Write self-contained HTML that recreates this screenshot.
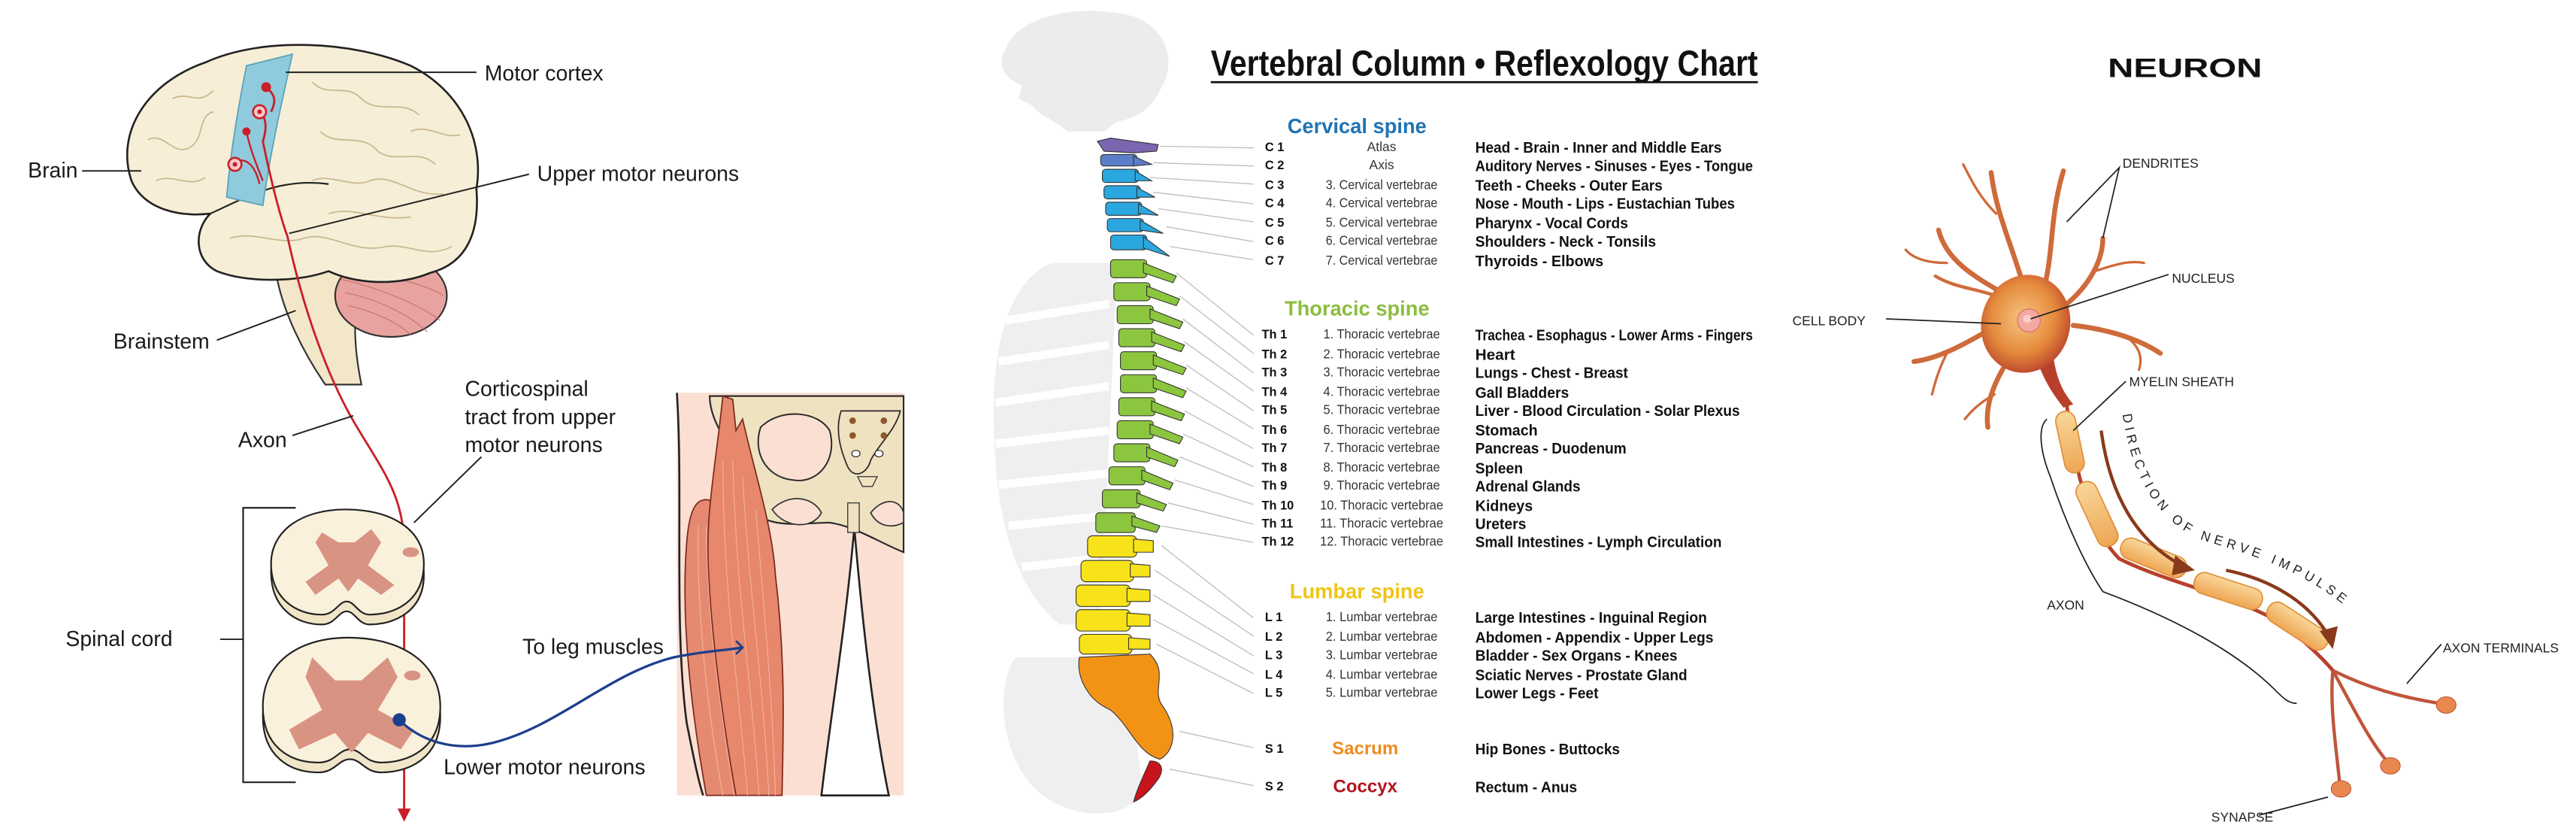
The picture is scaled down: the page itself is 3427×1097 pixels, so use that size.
<!DOCTYPE html>
<html><head><meta charset="utf-8"><style>
html,body{margin:0;padding:0;background:#fff;}
svg{display:block;}
text{font-family:"Liberation Sans",sans-serif;}
</style></head><body>
<svg width="3427" height="1097" viewBox="0 0 1568 502" preserveAspectRatio="none" xmlns="http://www.w3.org/2000/svg">
<rect width="1568" height="502" fill="#fff"/>

<!-- ================= LEFT PANEL ================= -->
<rect x="412" y="239" width="138" height="245" fill="#fbdfd3"/>
<path d="M412,239 C416,300 410,380 418,440 C422,460 425,475 428,484" fill="none" stroke="#222" stroke-width="1.2"/>
<path d="M520,321 C515,380 505,440 500,484 L541,484 C532,440 525,380 520,321 Z" fill="#fff" stroke="#222" stroke-width="1.2"/>
<path d="M432,241 L550,241 L550,336 C535,330 520,320 505,318 C490,318 470,322 460,312 C450,300 452,285 445,275 C438,262 432,252 432,241 Z" fill="#efe2c1" stroke="#2a2a2a" stroke-width="1"/>
<path d="M463,260 C475,248 498,250 505,262 C510,280 498,295 482,292 C466,290 458,275 463,260 Z" fill="#fbdfd3" stroke="#2a2a2a" stroke-width="0.9"/>
<path d="M512,250 L548,250 C545,262 535,270 530,280 C528,288 520,292 516,284 C512,275 508,262 512,250 Z" fill="#efe2c1" stroke="#2a2a2a" stroke-width="0.8"/>
<circle cx="519" cy="256" r="2" fill="#8a5a2a"/><circle cx="538" cy="256" r="2" fill="#8a5a2a"/>
<circle cx="519" cy="265" r="2" fill="#8a5a2a"/><circle cx="538" cy="265" r="2" fill="#8a5a2a"/>
<ellipse cx="521" cy="276" rx="2.5" ry="2" fill="#fff" stroke="#333" stroke-width="0.6"/>
<ellipse cx="535" cy="276" rx="2.5" ry="2" fill="#fff" stroke="#333" stroke-width="0.6"/>
<path d="M522,290 L534,290 L531,296 L525,296 Z" fill="#efe2c1" stroke="#333" stroke-width="0.6"/>
<path d="M470,310 C480,300 495,302 500,312 C495,322 478,322 470,310 Z" fill="#fbdfd3" stroke="#333" stroke-width="0.8"/>
<path d="M530,312 C538,302 548,304 550,312 L550,318 C542,322 534,320 530,312 Z" fill="#fbdfd3" stroke="#333" stroke-width="0.8"/>
<rect x="516" y="306" width="7" height="18" fill="#efe2c1" stroke="#333" stroke-width="0.6"/>
<path d="M426,305 C436,300 440,315 438,330 C436,380 450,440 455,484 L430,484 C422,440 414,380 418,330 C419,318 421,308 426,305 Z" fill="#e58a70" stroke="#7a2a1f" stroke-width="0.8"/>
<path d="M440,241 L446,243 L448,262 L452,255 C460,290 470,320 472,350 C478,400 477,440 476,484 L448,484 C440,440 432,380 431,340 C430,310 436,280 440,241 Z" fill="#e7876c" stroke="#7a2a1f" stroke-width="0.8"/>
<g stroke="#f5b3a0" stroke-width="0.5" fill="none">
<path d="M440,280 C440,360 450,420 455,484"/><path d="M446,280 C448,360 458,420 462,484"/><path d="M452,290 C456,360 465,420 468,484"/><path d="M460,310 C465,370 470,420 472,484"/><path d="M425,320 C424,380 432,440 440,484"/><path d="M430,320 C430,380 440,440 447,484"/>
</g>

<path d="M168,166 C172,190 185,215 198,234 L220,234 C215,210 214,185 222,160 Z" fill="#f2e7c9" stroke="#333" stroke-width="1"/>
<ellipse cx="238" cy="180" rx="34" ry="25" fill="#e8a3a0" stroke="#333" stroke-width="1"/>
<g stroke="#c46f6c" stroke-width="0.5" fill="none">
<path d="M208,170 C230,175 255,185 268,195"/><path d="M210,178 C230,182 250,192 260,202"/><path d="M212,186 C230,190 245,198 250,204"/><path d="M210,164 C235,168 258,172 270,180"/>
</g>
<path d="M80,110 C70,80 90,50 125,38 C160,22 215,25 250,40 C280,55 295,85 290,115 C292,140 285,160 262,166 C240,175 215,172 200,165 C180,172 150,172 132,165 C118,158 118,140 128,130 C110,132 88,128 80,110 Z" fill="#f6eed6" stroke="#222" stroke-width="1.2"/>
<g stroke="#c9b88f" stroke-width="0.8" fill="none">
<path d="M90,85 C100,80 105,95 115,90 C125,85 120,70 130,68"/><path d="M95,110 C105,105 115,115 125,108"/><path d="M190,50 C200,60 210,50 220,60 C230,70 245,60 255,70"/><path d="M195,80 C205,90 220,80 230,92 C240,100 255,90 265,100"/><path d="M190,110 C200,105 215,115 225,110 C240,105 250,120 270,118"/><path d="M140,145 C155,140 170,150 185,145 C200,140 215,155 235,150 C250,148 260,158 275,150"/><path d="M105,60 C115,55 120,65 130,55"/><path d="M200,130 C215,125 230,135 250,132"/><path d="M250,80 C260,75 270,85 280,82"/>
</g>
<path d="M128,130 C150,120 170,108 200,112" fill="none" stroke="#222" stroke-width="1"/>
<path d="M150,40 L178,33 C172,60 165,90 160,125 L138,120 C140,95 145,65 150,40 Z" fill="#8fcbdc" stroke="#5aa2bb" stroke-width="0.8"/>
<path d="M162,53 C168,58 168,62 165,68 M158,68 C163,72 162,80 160,86 C165,110 170,130 175,144 C185,190 200,230 215,256 C232,285 245,300 246,330 L246,495" fill="none" stroke="#c8202a" stroke-width="1.3"/>
<path d="M150,80 C152,90 156,100 160,110 M143,98 C150,96 155,100 158,112" fill="none" stroke="#c8202a" stroke-width="1.1"/>
<circle cx="162" cy="53" r="3" fill="#c8202a"/>
<circle cx="158" cy="68" r="4" fill="#f7c6c8" stroke="#c8202a" stroke-width="1.2"/><circle cx="158" cy="68" r="1.4" fill="#c8202a"/>
<circle cx="150" cy="80" r="2.5" fill="#c8202a"/>
<circle cx="143" cy="100" r="4" fill="#f7c6c8" stroke="#c8202a" stroke-width="1.2"/><circle cx="143" cy="100" r="1.4" fill="#c8202a"/>
<path d="M242,492 L246,500 L250,492 Z" fill="#c8202a"/>
<g stroke="#222" stroke-width="1">
<path d="M165,348 C165,325 185,314 210,314 C238,314 258,325 258,350 C258,372 240,380 225,380 C218,380 216,372 211,372 C206,372 204,380 196,380 C180,380 165,370 165,348 Z" fill="#f1e5c8"/>
<path d="M165,343 C165,322 185,310 210,310 C238,310 258,322 258,343 C258,366 240,374 225,374 C218,374 216,366 211,366 C206,366 204,374 196,374 C180,374 165,364 165,343 Z" fill="#faf1dc"/>
<path d="M160,436 C160,408 182,392 212,392 C244,392 268,408 268,436 C268,462 248,470 232,470 C222,470 220,462 213,462 C206,462 204,470 194,470 C176,470 160,460 160,436 Z" fill="#f1e5c8"/>
<path d="M160,430 C160,403 182,388 212,388 C244,388 268,403 268,430 C268,456 248,464 232,464 C222,464 220,456 213,456 C206,456 204,464 194,464 C176,464 160,454 160,430 Z" fill="#faf1dc"/>
</g>
<path d="M196,324 L206,330 L216,330 L226,322 L232,330 L224,344 L240,356 L232,362 L218,352 L212,360 L206,352 L192,362 L186,354 L200,344 L192,330 Z" fill="#d99382"/>
<path d="M190,400 L204,414 L220,414 L236,400 L242,412 L230,432 L252,444 L244,456 L224,446 L214,458 L204,446 L182,456 L176,444 L196,432 L186,412 Z" fill="#d99382"/>
<ellipse cx="250" cy="336" rx="5" ry="3" fill="#d99382"/><ellipse cx="251" cy="411" rx="5" ry="3" fill="#d99382"/>
<circle cx="243" cy="438" r="4" fill="#1c3f8c"/>
<path d="M243,438 C255,450 275,458 300,452 C340,442 370,410 410,400 C430,396 440,396 452,394" fill="none" stroke="#1c3f8c" stroke-width="1.5"/>
<path d="M448,390 L452,394 L448,398" fill="none" stroke="#1c3f8c" stroke-width="1.3"/>
<path d="M180,309 L148,309 L148,476 L180,476" fill="none" stroke="#222" stroke-width="1"/>
<g stroke="#222" stroke-width="0.9" fill="none">
<line x1="174" y1="44" x2="290" y2="44"/><line x1="50" y1="104" x2="86" y2="104"/><line x1="176" y1="142" x2="322" y2="106"/><line x1="132" y1="207" x2="180" y2="189"/><line x1="178" y1="265" x2="215" y2="253"/><line x1="293" y1="278" x2="252" y2="318"/><line x1="134" y1="389" x2="148" y2="389"/>
</g>
<g font-size="13" fill="#1a1a1a">
<text x="295" y="49">Motor cortex</text>
<text x="17" y="108">Brain</text>
<text x="327" y="110">Upper motor neurons</text>
<text x="69" y="212">Brainstem</text>
<text x="145" y="272">Axon</text>
<text x="283" y="241">Corticospinal</text>
<text x="283" y="258">tract from upper</text>
<text x="283" y="275">motor neurons</text>
<text x="40" y="393">Spinal cord</text>
<text x="318" y="398">To leg muscles</text>
<text x="270" y="471">Lower motor neurons</text>
</g>

<!-- ================= MIDDLE PANEL ================= -->
<g fill="#ececec">
<path d="M612,30 C620,8 660,2 690,10 C712,18 716,40 706,55 C700,68 690,72 680,74 L672,80 L650,80 C640,72 632,70 628,64 L620,60 L622,52 C612,48 606,40 612,30 Z"/>
<path d="M640,160 C615,170 603,210 605,260 C606,320 620,360 645,380 L670,380 L680,160 Z" fill="#efefef"/>
<path d="M618,400 C605,420 610,460 630,480 C650,500 690,500 695,480 L690,430 L660,400 Z" fill="#efefef"/>
</g>
<g stroke="#fff" stroke-width="5" fill="none">
<path d="M612,195 L675,185"/><path d="M608,220 L675,210"/><path d="M606,245 L675,235"/><path d="M606,270 L675,262"/><path d="M608,295 L675,288"/><path d="M614,320 L672,314"/><path d="M622,345 L668,340"/>
</g>
<g stroke="#bdbdbd" stroke-width="0.6" fill="none">
<line x1="706" y1="89" x2="763" y2="90"/><line x1="702" y1="99" x2="763" y2="101"/><line x1="700" y1="108" x2="763" y2="112"/><line x1="702" y1="117" x2="763" y2="124"/><line x1="705" y1="127" x2="763" y2="135"/><line x1="710" y1="138" x2="763" y2="147"/><line x1="712" y1="150" x2="763" y2="158"/>
<line x1="716" y1="166" x2="763" y2="204"/><line x1="718" y1="180" x2="763" y2="215"/><line x1="720" y1="194" x2="763" y2="227"/><line x1="721" y1="208" x2="763" y2="238"/><line x1="722" y1="222" x2="763" y2="250"/><line x1="722" y1="236" x2="763" y2="261"/><line x1="721" y1="250" x2="763" y2="273"/><line x1="720" y1="264" x2="763" y2="284"/><line x1="718" y1="278" x2="763" y2="296"/><line x1="715" y1="292" x2="763" y2="307"/><line x1="711" y1="306" x2="763" y2="319"/><line x1="707" y1="320" x2="763" y2="330"/>
<line x1="707" y1="332" x2="763" y2="376"/><line x1="703" y1="347" x2="763" y2="387"/><line x1="702" y1="362" x2="763" y2="399"/><line x1="702" y1="377" x2="763" y2="410"/><line x1="704" y1="392" x2="763" y2="422"/>
<line x1="718" y1="445" x2="763" y2="455"/><line x1="712" y1="468" x2="763" y2="478"/>
</g>
<g stroke="#333" stroke-width="0.5">
<path d="M668,86 L676,84 L690,86 L705,88 L704,92 L690,93 L672,92 Z" fill="#7b66b2"/>
<g fill="#2aa7df">
<rect x="670" y="94" width="22" height="7" rx="2" fill="#5b7ec8"/><path d="M690,95 L701,100 L690,101 Z" fill="#5b7ec8"/>
<rect x="671" y="103" width="22" height="8" rx="2"/><path d="M691,104 L701,110 L691,110 Z"/>
<rect x="672" y="113" width="22" height="8" rx="2"/><path d="M692,114 L703,120 L692,120 Z"/>
<rect x="673" y="123" width="22" height="8" rx="2"/><path d="M693,124 L705,131 L693,130 Z"/>
<rect x="674" y="133" width="22" height="8" rx="2"/><path d="M694,134 L708,142 L694,140 Z"/>
<rect x="676" y="143" width="22" height="9" rx="2"/><path d="M696,144 L712,156 L696,151 Z"/>
</g>
<g fill="#8cc63e">
<rect x="676" y="158" width="22" height="11" rx="2"/><path d="M696,160 L716,168 L714,172 L696,166 Z"/>
<rect x="678" y="172" width="22" height="11" rx="2"/><path d="M698,174 L718,182 L716,186 L698,180 Z"/>
<rect x="680" y="186" width="22" height="11" rx="2"/><path d="M700,188 L720,196 L718,200 L700,194 Z"/>
<rect x="681" y="200" width="22" height="11" rx="2"/><path d="M701,202 L721,210 L719,214 L701,208 Z"/>
<rect x="682" y="214" width="22" height="11" rx="2"/><path d="M702,216 L722,224 L720,228 L702,222 Z"/>
<rect x="682" y="228" width="22" height="11" rx="2"/><path d="M702,230 L722,238 L720,242 L702,236 Z"/>
<rect x="681" y="242" width="22" height="11" rx="2"/><path d="M701,244 L721,252 L719,256 L701,250 Z"/>
<rect x="680" y="256" width="22" height="11" rx="2"/><path d="M700,258 L720,266 L718,270 L700,264 Z"/>
<rect x="678" y="270" width="22" height="11" rx="2"/><path d="M698,272 L717,280 L715,284 L698,278 Z"/>
<rect x="675" y="284" width="22" height="11" rx="2"/><path d="M695,286 L714,294 L712,298 L695,292 Z"/>
<rect x="671" y="298" width="23" height="11" rx="2"/><path d="M692,300 L710,307 L708,311 L692,306 Z"/>
<rect x="667" y="312" width="24" height="12" rx="2"/><path d="M689,314 L706,320 L704,324 L689,320 Z"/>
</g>
<g fill="#f8e21a">
<rect x="662" y="326" width="30" height="13" rx="3"/><path d="M690,328 L702,329 L702,336 L690,336 Z"/>
<rect x="658" y="341" width="32" height="13" rx="3"/><path d="M688,343 L700,344 L700,351 L688,351 Z"/>
<rect x="655" y="356" width="33" height="13" rx="3"/><path d="M686,358 L700,359 L700,366 L686,366 Z"/>
<rect x="655" y="371" width="33" height="13" rx="3"/><path d="M686,373 L700,374 L700,381 L686,381 Z"/>
<rect x="657" y="386" width="32" height="12" rx="3"/><path d="M687,388 L700,389 L700,395 L687,395 Z"/>
</g>
<path d="M657,400 L700,398 C712,410 700,420 708,430 C718,445 714,458 706,462 C692,458 688,442 676,432 C662,426 655,412 657,400 Z" fill="#f39316"/>
<path d="M700,463 C707,463 709,468 705,474 C700,481 695,486 690,488 C692,480 697,470 700,463 Z" fill="#c8141c"/>
</g>
<text x="737" y="46" font-size="22" font-weight="bold" textLength="333" lengthAdjust="spacingAndGlyphs" fill="#111">Vertebral Column • Reflexology Chart</text>
<line x1="737" y1="50" x2="1070" y2="50" stroke="#111" stroke-width="1.3"/>
<g font-weight="bold" text-anchor="middle" font-size="12.5">
<text x="826" y="81" fill="#1f74b4">Cervical spine</text>
<text x="826" y="192" fill="#8cbd3e">Thoracic spine</text>
<text x="826" y="364" fill="#f0c419">Lumbar spine</text>
<text x="831" y="459" fill="#ef8b1e" font-size="11">Sacrum</text>
<text x="831" y="482" fill="#b5141e" font-size="11">Coccyx</text>
</g>
<g font-size="7.5" font-weight="bold" fill="#111">
<text x="770" y="92">C 1</text><text x="770" y="103">C 2</text><text x="770" y="115">C 3</text><text x="770" y="126">C 4</text><text x="770" y="138">C 5</text><text x="770" y="149">C 6</text><text x="770" y="161">C 7</text>
<text x="768" y="206">Th 1</text><text x="768" y="218">Th 2</text><text x="768" y="229">Th 3</text><text x="768" y="241">Th 4</text><text x="768" y="252">Th 5</text><text x="768" y="264">Th 6</text><text x="768" y="275">Th 7</text><text x="768" y="287">Th 8</text><text x="768" y="298">Th 9</text><text x="768" y="310">Th 10</text><text x="768" y="321">Th 11</text><text x="768" y="332">Th 12</text>
<text x="770" y="378">L 1</text><text x="770" y="390">L 2</text><text x="770" y="401">L 3</text><text x="770" y="413">L 4</text><text x="770" y="424">L 5</text>
<text x="770" y="458">S 1</text><text x="770" y="481">S 2</text>
</g>
<g font-size="8" fill="#333" text-anchor="middle">
<text x="841" y="92">Atlas</text><text x="841" y="103">Axis</text>
<text x="841" y="115" textLength="68" lengthAdjust="spacingAndGlyphs">3. Cervical vertebrae</text>
<text x="841" y="126" textLength="68" lengthAdjust="spacingAndGlyphs">4. Cervical vertebrae</text>
<text x="841" y="138" textLength="68" lengthAdjust="spacingAndGlyphs">5. Cervical vertebrae</text>
<text x="841" y="149" textLength="68" lengthAdjust="spacingAndGlyphs">6. Cervical vertebrae</text>
<text x="841" y="161" textLength="68" lengthAdjust="spacingAndGlyphs">7. Cervical vertebrae</text>
<text x="841" y="206" textLength="71" lengthAdjust="spacingAndGlyphs">1. Thoracic vertebrae</text>
<text x="841" y="218" textLength="71" lengthAdjust="spacingAndGlyphs">2. Thoracic vertebrae</text>
<text x="841" y="229" textLength="71" lengthAdjust="spacingAndGlyphs">3. Thoracic vertebrae</text>
<text x="841" y="241" textLength="71" lengthAdjust="spacingAndGlyphs">4. Thoracic vertebrae</text>
<text x="841" y="252" textLength="71" lengthAdjust="spacingAndGlyphs">5. Thoracic vertebrae</text>
<text x="841" y="264" textLength="71" lengthAdjust="spacingAndGlyphs">6. Thoracic vertebrae</text>
<text x="841" y="275" textLength="71" lengthAdjust="spacingAndGlyphs">7. Thoracic vertebrae</text>
<text x="841" y="287" textLength="71" lengthAdjust="spacingAndGlyphs">8. Thoracic vertebrae</text>
<text x="841" y="298" textLength="71" lengthAdjust="spacingAndGlyphs">9. Thoracic vertebrae</text>
<text x="841" y="310" textLength="75" lengthAdjust="spacingAndGlyphs">10. Thoracic vertebrae</text>
<text x="841" y="321" textLength="75" lengthAdjust="spacingAndGlyphs">11. Thoracic vertebrae</text>
<text x="841" y="332" textLength="75" lengthAdjust="spacingAndGlyphs">12. Thoracic vertebrae</text>
<text x="841" y="378" textLength="68" lengthAdjust="spacingAndGlyphs">1. Lumbar vertebrae</text>
<text x="841" y="390" textLength="68" lengthAdjust="spacingAndGlyphs">2. Lumbar vertebrae</text>
<text x="841" y="401" textLength="68" lengthAdjust="spacingAndGlyphs">3. Lumbar vertebrae</text>
<text x="841" y="413" textLength="68" lengthAdjust="spacingAndGlyphs">4. Lumbar vertebrae</text>
<text x="841" y="424" textLength="68" lengthAdjust="spacingAndGlyphs">5. Lumbar vertebrae</text>
</g>
<g font-size="9.5" font-weight="bold" fill="#111">
<text x="898" y="93" textLength="150" lengthAdjust="spacingAndGlyphs">Head - Brain - Inner and Middle Ears</text>
<text x="898" y="104" textLength="169" lengthAdjust="spacingAndGlyphs">Auditory Nerves - Sinuses - Eyes - Tongue</text>
<text x="898" y="116" textLength="114" lengthAdjust="spacingAndGlyphs">Teeth - Cheeks - Outer Ears</text>
<text x="898" y="127" textLength="158" lengthAdjust="spacingAndGlyphs">Nose - Mouth - Lips - Eustachian Tubes</text>
<text x="898" y="139" textLength="93" lengthAdjust="spacingAndGlyphs">Pharynx - Vocal Cords</text>
<text x="898" y="150" textLength="110" lengthAdjust="spacingAndGlyphs">Shoulders - Neck - Tonsils</text>
<text x="898" y="162" textLength="78" lengthAdjust="spacingAndGlyphs">Thyroids - Elbows</text>
<text x="898" y="207" textLength="169" lengthAdjust="spacingAndGlyphs">Trachea - Esophagus - Lower Arms - Fingers</text>
<text x="898" y="219">Heart</text>
<text x="898" y="230" textLength="93" lengthAdjust="spacingAndGlyphs">Lungs - Chest - Breast</text>
<text x="898" y="242" textLength="57" lengthAdjust="spacingAndGlyphs">Gall Bladders</text>
<text x="898" y="253" textLength="161" lengthAdjust="spacingAndGlyphs">Liver - Blood Circulation - Solar Plexus</text>
<text x="898" y="265" textLength="38" lengthAdjust="spacingAndGlyphs">Stomach</text>
<text x="898" y="276" textLength="92" lengthAdjust="spacingAndGlyphs">Pancreas - Duodenum</text>
<text x="898" y="288" textLength="29" lengthAdjust="spacingAndGlyphs">Spleen</text>
<text x="898" y="299" textLength="64" lengthAdjust="spacingAndGlyphs">Adrenal Glands</text>
<text x="898" y="311" textLength="35" lengthAdjust="spacingAndGlyphs">Kidneys</text>
<text x="898" y="322" textLength="31" lengthAdjust="spacingAndGlyphs">Ureters</text>
<text x="898" y="333" textLength="150" lengthAdjust="spacingAndGlyphs">Small Intestines - Lymph Circulation</text>
<text x="898" y="379" textLength="141" lengthAdjust="spacingAndGlyphs">Large Intestines - Inguinal Region</text>
<text x="898" y="391" textLength="145" lengthAdjust="spacingAndGlyphs">Abdomen - Appendix - Upper Legs</text>
<text x="898" y="402" textLength="123" lengthAdjust="spacingAndGlyphs">Bladder - Sex Organs - Knees</text>
<text x="898" y="414" textLength="129" lengthAdjust="spacingAndGlyphs">Sciatic Nerves - Prostate Gland</text>
<text x="898" y="425" textLength="75" lengthAdjust="spacingAndGlyphs">Lower Legs - Feet</text>
<text x="898" y="459" textLength="88" lengthAdjust="spacingAndGlyphs">Hip Bones - Buttocks</text>
<text x="898" y="482" textLength="62" lengthAdjust="spacingAndGlyphs">Rectum - Anus</text>
</g>

<!-- ================= RIGHT PANEL ================= -->
<text x="1283" y="47" font-size="16" font-weight="bold" fill="#111" textLength="94" lengthAdjust="spacingAndGlyphs">NEURON</text>
<defs>
<radialGradient id="cb" cx="0.45" cy="0.45" r="0.6"><stop offset="0" stop-color="#f6c680"/><stop offset="0.6" stop-color="#e58a3c"/><stop offset="1" stop-color="#b8402a"/></radialGradient>
<linearGradient id="my" x1="0" y1="0" x2="0" y2="1"><stop offset="0" stop-color="#f8d79a"/><stop offset="1" stop-color="#eea653"/></linearGradient>
</defs>
<g stroke="#cf6a3a" fill="none" stroke-linecap="round">
<path d="M1232,175 C1225,150 1215,130 1212,105" stroke-width="3"/><path d="M1215,130 C1205,120 1200,110 1195,100" stroke-width="1.5"/>
<path d="M1245,172 C1250,150 1248,130 1256,104" stroke-width="3"/>
<path d="M1222,180 C1205,170 1185,160 1180,140" stroke-width="3"/><path d="M1185,160 C1175,160 1165,158 1160,152" stroke-width="1.5"/>
<path d="M1258,185 C1270,175 1280,160 1280,145" stroke-width="3"/><path d="M1275,165 C1285,162 1295,158 1305,160" stroke-width="1.5"/>
<path d="M1262,198 C1280,200 1300,205 1315,215" stroke-width="3"/><path d="M1295,205 C1300,210 1305,215 1302,225" stroke-width="1.5"/>
<path d="M1212,200 C1195,210 1180,218 1165,220" stroke-width="3"/><path d="M1185,215 C1180,225 1178,232 1176,240" stroke-width="1.5"/>
<path d="M1225,215 C1215,230 1208,245 1210,260" stroke-width="3"/><path d="M1214,240 C1205,245 1200,250 1196,255" stroke-width="1.5"/>
<path d="M1215,180 C1200,175 1190,175 1178,168" stroke-width="2"/>
</g>
<path d="M1240,220 C1246,235 1250,240 1256,248 L1262,246 C1255,238 1252,230 1250,218 Z" fill="#b8402a"/>
<ellipse cx="1233" cy="197" rx="27" ry="30" fill="url(#cb)" transform="rotate(15 1233 197)"/>
<circle cx="1235" cy="195" r="7" fill="#f3a9a0" stroke="#e87a70" stroke-width="0.8"/>
<circle cx="1234" cy="194" r="2.5" fill="#f8d0c8"/>
<path d="M1258,246 C1262,280 1270,320 1290,340 C1320,355 1360,362 1390,380 C1405,392 1415,402 1420,408" fill="none" stroke="#b8402a" stroke-width="2.2"/>
<g fill="url(#my)" stroke="#e0913e" stroke-width="0.8">
<rect x="1254" y="250" width="12" height="38" rx="6" transform="rotate(-12 1260 269)"/>
<rect x="1270" y="292" width="13" height="42" rx="6" transform="rotate(-25 1276 313)"/>
<rect x="1290" y="333" width="42" height="13" rx="6" transform="rotate(22 1311 339)"/>
<rect x="1335" y="353" width="43" height="13" rx="6" transform="rotate(18 1356 359)"/>
<rect x="1378" y="374" width="42" height="13" rx="6" transform="rotate(33 1398 380)"/>
</g>
<g stroke="#c0553a" fill="none" stroke-width="2">
<path d="M1420,408 C1440,418 1460,424 1485,428"/><path d="M1420,408 C1432,430 1442,450 1452,462"/><path d="M1420,408 C1418,430 1422,455 1424,475"/>
</g>
<g fill="#e8884e" stroke="#c0553a" stroke-width="0.5"><ellipse cx="1489" cy="429" rx="6" ry="5"/><ellipse cx="1455" cy="466" rx="6" ry="5"/><ellipse cx="1425" cy="480" rx="6" ry="5"/></g>
<path d="M1279,262 C1284,300 1300,330 1330,345" fill="none" stroke="#8a3a1a" stroke-width="2"/>
<path d="M1324,338 L1336,347 L1322,350 Z" fill="#8a3a1a"/>
<path d="M1355,347 C1380,352 1405,365 1418,388" fill="none" stroke="#8a3a1a" stroke-width="2"/>
<path d="M1412,384 L1420,395 L1423,381 Z" fill="#8a3a1a"/>
<path id="dp" d="M1292,252 C1298,295 1318,322 1345,330 C1380,340 1412,352 1440,380" fill="none"/>
<text font-size="8" fill="#222" letter-spacing="2.6"><textPath href="#dp">DIRECTION OF NERVE IMPULSE</textPath></text>
<path d="M1246,255 C1240,260 1242,275 1248,290 C1258,320 1270,345 1280,360 C1320,375 1360,395 1385,420 C1390,425 1393,428 1398,428" fill="none" stroke="#222" stroke-width="0.8"/>
<g stroke="#222" stroke-width="0.8" fill="none">
<path d="M1258,135 L1290,102 L1280,145"/><line x1="1236" y1="194" x2="1320" y2="167"/><line x1="1148" y1="194" x2="1218" y2="197"/><line x1="1262" y1="262" x2="1294" y2="232"/><line x1="1465" y1="416" x2="1486" y2="392"/><line x1="1375" y1="496" x2="1417" y2="485"/>
</g>
<g font-size="8" fill="#222">
<text x="1292" y="102">DENDRITES</text>
<text x="1322" y="172">NUCLEUS</text>
<text x="1091" y="198">CELL BODY</text>
<text x="1296" y="235">MYELIN SHEATH</text>
<text x="1246" y="371">AXON</text>
<text x="1487" y="397">AXON TERMINALS</text>
<text x="1346" y="500">SYNAPSE</text>
</g>
</svg>
</body></html>
